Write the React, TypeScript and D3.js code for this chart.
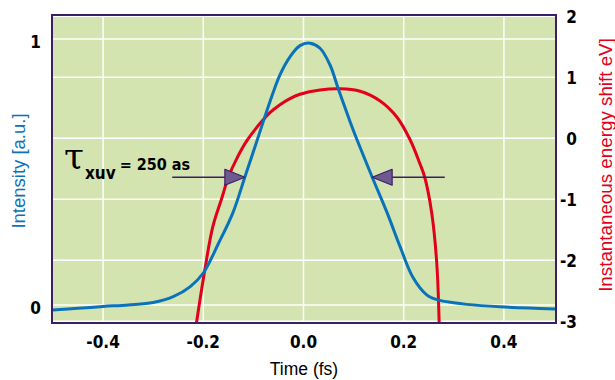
import { useEffect, useRef } from "react";
import * as d3 from "d3";

const WIDTH = 615;
const HEIGHT = 380;
const PLOT = { left: 52, right: 556, top: 15, bottom: 323 };

const COLORS = {
  bg: "#d4e4b0",
  frame: "#3a1f68",
  grid: "#ffffff",
  pulse: "#0a72ba",
  chirp: "#e2001a",
  arrowFill: "#6e5a8e",
};

const xTicks = [-0.4, -0.2, 0, 0.2, 0.4];
const xTickLabels = ["-0.4", "-0.2", "0.0", "0.2", "0.4"];
const leftTicks = [0, 1];
const rightTicks = [2, 1, 0, -1, -2, -3];

// XUV pulse intensity (left axis, a.u.)
const pulseTime = [
  -0.5, -0.45, -0.4, -0.35, -0.3, -0.26, -0.226, -0.2, -0.17, -0.141, -0.117, -0.101, -0.088, -0.067, -0.047,
  -0.027, -0.007, 0.013, 0.033, 0.053, 0.069, 0.093, 0.106, 0.137, 0.167, 0.193, 0.218, 0.246, 0.268, 0.3,
  0.326, 0.392, 0.45, 0.504,
];
const pulseIntensity = [
  -0.019, -0.013, -0.006, 0.0, 0.009, 0.031, 0.069, 0.12, 0.23, 0.346, 0.481, 0.571, 0.645, 0.764, 0.865,
  0.933, 0.975, 0.984, 0.965, 0.902, 0.815, 0.689, 0.625, 0.481, 0.346, 0.218, 0.105, 0.038, 0.019, 0.008,
  0.002, -0.007, -0.012, -0.015,
];

// Instantaneous energy shift (right axis, eV)
const chirpTime = [
  -0.215, -0.197, -0.181, -0.163, -0.15, -0.133, -0.113, -0.087, -0.067, -0.047, -0.027, -0.007, 0.033, 0.073,
  0.113, 0.153, 0.187, 0.213, 0.232, 0.242, 0.256, 0.266, 0.271,
];
const chirpShift = [
  -3.1, -2.16, -1.45, -0.98, -0.64, -0.33, -0.04, 0.24, 0.42, 0.55, 0.65, 0.72, 0.79, 0.81, 0.77, 0.61, 0.34,
  -0.03, -0.41, -0.64, -1.23, -2.05, -3.1,
];

// FWHM markers: arrow tips sit on the half-maximum crossings
const fwhmTips = [-0.117, 0.137];
const arrowTails = [-0.262, 0.282];
const fwhmLevel = 0.48;

const TICK_FONT = "'DejaVu Sans Condensed', 'DejaVu Sans', sans-serif";
const LABEL_FONT = "'Liberation Sans', Arial, sans-serif";

export default function App() {
  const svgRef = useRef<SVGSVGElement | null>(null);

  useEffect(() => {
    const svgEl = svgRef.current;
    if (!svgEl) return;
    const svg = d3.select(svgEl);
    svg.selectAll("*").remove();

    const x = d3.scaleLinear().domain([-0.502, 0.504]).range([PLOT.left, PLOT.right]);
    const yLeft = d3.scaleLinear().domain([-0.068, 1.09]).range([PLOT.bottom, PLOT.top]);
    const yRight = d3.scaleLinear().domain([-3.03, 2.02]).range([PLOT.bottom, PLOT.top]);

    svg
      .append("clipPath")
      .attr("id", "plot-clip")
      .append("rect")
      .attr("x", PLOT.left)
      .attr("y", PLOT.top)
      .attr("width", PLOT.right - PLOT.left)
      .attr("height", PLOT.bottom - PLOT.top);

    svg
      .append("rect")
      .attr("x", PLOT.left)
      .attr("y", PLOT.top)
      .attr("width", PLOT.right - PLOT.left)
      .attr("height", PLOT.bottom - PLOT.top)
      .attr("fill", COLORS.bg);

    // Grid: verticals on time ticks, horizontals on both y axes' ticks.
    const grid = svg.append("g").attr("stroke", COLORS.grid).attr("stroke-width", 1.5);
    grid
      .selectAll("line.v")
      .data(xTicks)
      .join("line")
      .attr("class", "v")
      .attr("x1", (d) => x(d))
      .attr("x2", (d) => x(d))
      .attr("y1", PLOT.top)
      .attr("y2", PLOT.bottom);
    const hLines = [...leftTicks.map((d) => yLeft(d)), ...rightTicks.map((d) => yRight(d))];
    grid
      .selectAll("line.h")
      .data(hLines)
      .join("line")
      .attr("class", "h")
      .attr("x1", PLOT.left)
      .attr("x2", PLOT.right)
      .attr("y1", (d) => d)
      .attr("y2", (d) => d);

    const plot = svg.append("g").attr("clip-path", "url(#plot-clip)");

    const pulse = d3
      .line<number>()
      .x((_, i) => x(pulseTime[i]))
      .y((d) => yLeft(d))
      .curve(d3.curveCatmullRom.alpha(0.5));
    const chirp = d3
      .line<number>()
      .x((_, i) => x(chirpTime[i]))
      .y((d) => yRight(d))
      .curve(d3.curveCatmullRom.alpha(0.5));

    plot
      .append("path")
      .attr("d", chirp(chirpShift))
      .attr("fill", "none")
      .attr("stroke", COLORS.chirp)
      .attr("stroke-width", 3);
    plot
      .append("path")
      .attr("d", pulse(pulseIntensity))
      .attr("fill", "none")
      .attr("stroke", COLORS.pulse)
      .attr("stroke-width", 3);

    // FWHM arrows.
    const ay = yLeft(fwhmLevel);
    fwhmTips.forEach((tip, i) => {
      const dir = Math.sign(tip - arrowTails[i]);
      const tx = x(tip);
      const base = tx - dir * 20;
      plot
        .append("line")
        .attr("x1", x(arrowTails[i]))
        .attr("x2", base)
        .attr("y1", ay)
        .attr("y2", ay)
        .attr("stroke", COLORS.frame)
        .attr("stroke-width", 1.5);
      plot
        .append("path")
        .attr("d", `M${base},${ay - 8}L${tx},${ay}L${base},${ay + 8}Z`)
        .attr("fill", COLORS.arrowFill)
        .attr("stroke", COLORS.frame)
        .attr("stroke-width", 1.2)
        .attr("stroke-linejoin", "round");
    });

    // Frame.
    svg
      .append("rect")
      .attr("x", PLOT.left)
      .attr("y", PLOT.top)
      .attr("width", PLOT.right - PLOT.left)
      .attr("height", PLOT.bottom - PLOT.top)
      .attr("fill", "none")
      .attr("stroke", COLORS.frame)
      .attr("stroke-width", 2);

    // Tick labels.
    const tickText = (g: d3.Selection<SVGGElement, unknown, null, undefined>) =>
      g
        .attr("font-family", TICK_FONT)
        .attr("font-weight", "bold")
        .attr("font-stretch", "condensed")
        .attr("font-size", 17)
        .attr("fill", "#000");

    svg
      .append("g")
      .call(tickText)
      .attr("text-anchor", "middle")
      .selectAll("text")
      .data(xTicks)
      .join("text")
      .attr("x", (d) => x(d))
      .attr("y", PLOT.bottom + 25)
      .text((_, i) => xTickLabels[i]);

    svg
      .append("g")
      .call(tickText)
      .attr("text-anchor", "end")
      .selectAll("text")
      .data(leftTicks)
      .join("text")
      .attr("x", PLOT.left - 11)
      .attr("y", (d) => yLeft(d) + 9)
      .text((d) => String(d));

    svg
      .append("g")
      .call(tickText)
      .attr("text-anchor", "end")
      .selectAll("text")
      .data(rightTicks)
      .join("text")
      .attr("x", PLOT.right + 21)
      .attr("y", (d) => yRight(d) + 7)
      .text((d) => String(d));

    // Axis titles.
    svg
      .append("text")
      .attr("x", (PLOT.left + PLOT.right) / 2)
      .attr("y", 375)
      .attr("text-anchor", "middle")
      .attr("font-family", LABEL_FONT)
      .attr("font-size", 17.5)
      .attr("fill", "#000")
      .text("Time (fs)");

    svg
      .append("text")
      .attr("transform", "translate(25, 171) rotate(-90)")
      .attr("text-anchor", "middle")
      .attr("font-family", LABEL_FONT)
      .attr("font-size", 18.5)
      .attr("fill", COLORS.pulse)
      .text("Intensity [a.u.]");
    svg
      .append("text")
      .attr("transform", "translate(612, 165) rotate(-90)")
      .attr("text-anchor", "middle")
      .attr("font-family", LABEL_FONT)
      .attr("font-size", 18.8)
      .attr("fill", COLORS.chirp)
      .text("Instantaneous energy shift eV]");

    // Pulse duration annotation.
    const note = svg.append("text").attr("x", 64).attr("y", 168).attr("fill", "#000");
    note
      .append("tspan")
      .attr("font-family", "'DejaVu Serif', 'Liberation Serif', serif")
      .attr("font-size", 36)
      .text("τ");
    note
      .append("tspan")
      .attr("font-family", TICK_FONT)
      .attr("font-weight", "bold")
      .attr("font-stretch", "condensed")
      .attr("font-size", 17)
      .attr("dx", 1)
      .attr("dy", 11)
      .text("xuv");
    note
      .append("tspan")
      .attr("font-family", TICK_FONT)
      .attr("font-weight", "bold")
      .attr("font-stretch", "condensed")
      .attr("font-size", 16)
      .attr("dx", 4)
      .attr("dy", -9)
      .text("= 250 as");
  }, []);

  return (
    <svg
      ref={svgRef}
      width={WIDTH}
      height={HEIGHT}
      viewBox={`0 0 ${WIDTH} ${HEIGHT}`}
      style={{ position: "absolute", left: 0, top: 0, background: "#fff" }}
    />
  );
}
